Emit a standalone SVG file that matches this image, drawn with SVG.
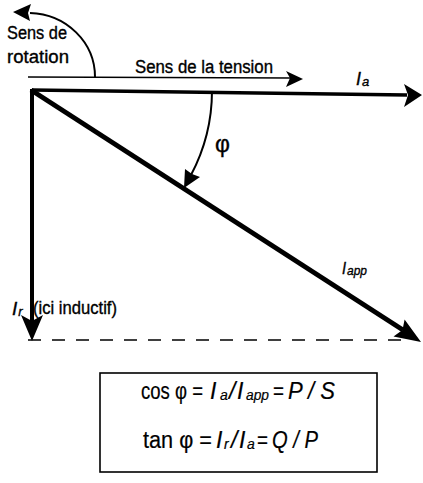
<svg xmlns="http://www.w3.org/2000/svg" width="423" height="483" viewBox="0 0 423 483">
<style>
text{font-family:"Liberation Sans",Arial,sans-serif;fill:#000;stroke:#000;stroke-width:0.35}
.lbl{font-size:18px}
.it{font-style:italic}
.sub{font-size:13px}
.frm{font-size:23px;stroke-width:0.2}
.fsub{font-size:14px;stroke-width:0.2}
.thick{stroke:#000;fill:none;stroke-linecap:butt}
.head{fill:#000;stroke:none}
</style>
<rect width="423" height="483" fill="#fff"/>
<g id="connectors">
  <path class="thick" d="M95,77 A67,64 0 0 0 30,13" stroke-width="2"/>
  <polygon class="head" points="13,12 31,4 28,13 30,21"/>
  <path class="thick" d="M28,77 L290,78" stroke-width="1.6"/>
  <polygon class="head" points="303,79 286,71 290,78 286,87"/>
  <path class="thick" d="M32,90 L407,95" stroke-width="3.6"/>
  <polygon class="head" points="422,95 404,84 408,95 404,107"/>
  <path class="thick" d="M32,89 L32,322" stroke-width="4"/>
  <polygon class="head" points="32,341 21,315 32,321 43,315"/>
  <path class="thick" d="M31,90 L403,330" stroke-width="5"/>
  <polygon class="head" points="421,342 393.5,336.5 402.5,330 404.6,319.5"/>
  <path class="thick" d="M212,91 A180,180 0 0 1 191,175" stroke-width="2"/>
  <polygon class="head" points="184,188 185,169 192,174 200,177"/>
  <path class="thick" d="M28,340 L412,340" stroke-width="1.6" stroke-dasharray="13 11"/>
</g>
<g id="rotation-label">
  <text class="lbl" x="7" y="39" textLength="60" lengthAdjust="spacingAndGlyphs">Sens de</text>
  <text class="lbl" x="7" y="63" textLength="62" lengthAdjust="spacingAndGlyphs">rotation</text>
</g>
<g id="tension-label">
  <text class="lbl" x="135" y="73" textLength="138" lengthAdjust="spacingAndGlyphs">Sens de la tension</text>
</g>
<g id="ia-label">
  <text class="it" x="356" y="85" font-size="18" stroke-width="0.2">I<tspan class="sub" dx="1" dy="1">a</tspan></text>
</g>
<g id="phi-label">
  <text x="215" y="152" font-size="23">φ</text>
</g>
<g id="iapp-label">
  <text class="it" x="342" y="274" font-size="16" stroke-width="0.2" textLength="25" lengthAdjust="spacingAndGlyphs">I<tspan class="sub" dx="1" dy="1">app</tspan></text>
</g>
<g id="ir-label">
  <text class="it" x="12" y="315" font-size="19" stroke-width="0.2">I<tspan class="sub" dx="1" dy="1">r</tspan></text>
  <text class="lbl" x="33" y="314" textLength="84" lengthAdjust="spacingAndGlyphs">(ici inductif)</text>
</g>
<g id="formula-box">
  <rect x="100" y="373" width="277" height="99" fill="none" stroke="#000" stroke-width="1.6"/>
  <text class="frm" x="141" y="399" textLength="62" lengthAdjust="spacingAndGlyphs">cos φ =</text>
  <text class="frm it" x="210" y="399">I</text>
  <text class="fsub it" x="220" y="400">a</text>
  <text class="frm it" x="229" y="399">/</text>
  <text class="frm it" x="237" y="399">I</text>
  <text class="fsub it" x="246" y="400" textLength="23" lengthAdjust="spacingAndGlyphs">app</text>
  <text class="frm" x="273" y="399" textLength="11" lengthAdjust="spacingAndGlyphs">=</text>
  <text class="frm it" x="288" y="399" textLength="47" lengthAdjust="spacingAndGlyphs">P / S</text>
  <text class="frm" x="143" y="448" textLength="69" lengthAdjust="spacingAndGlyphs">tan φ =</text>
  <text class="frm it" x="216" y="448">I</text>
  <text class="fsub it" x="224" y="449">r</text>
  <text class="frm it" x="231" y="448">/</text>
  <text class="frm it" x="239" y="448">I</text>
  <text class="fsub it" x="247" y="449">a</text>
  <text class="frm" x="257" y="448" textLength="11" lengthAdjust="spacingAndGlyphs">=</text>
  <text class="frm it" x="272" y="448" textLength="46" lengthAdjust="spacingAndGlyphs">Q / P</text>
</g>
</svg>
